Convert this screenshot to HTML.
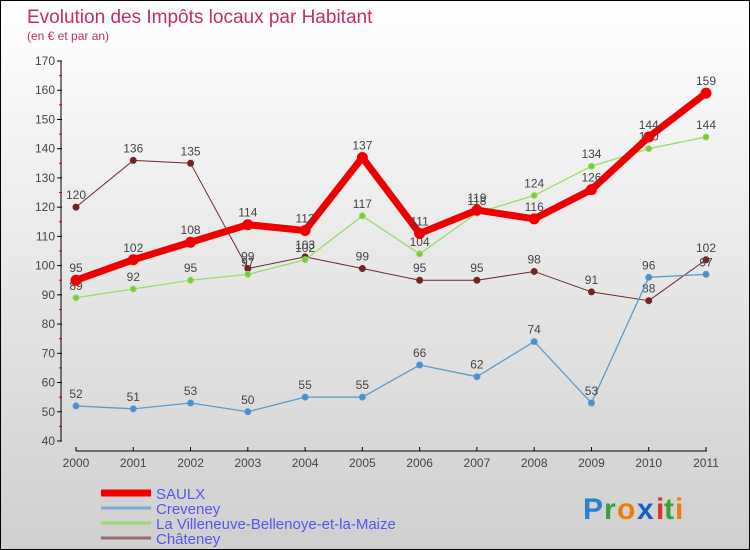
<!DOCTYPE html>
<html><head><meta charset="utf-8"><style>
body{margin:0;}
#wrap{width:748px;height:548px;border:1px solid #000;background:linear-gradient(#ffffff,#cfcfcf);position:relative;overflow:hidden;font-family:"Liberation Sans",sans-serif;}
</style></head><body>
<div id="wrap">
<svg id="svg" width="748" height="548" xmlns="http://www.w3.org/2000/svg">
<text x="26" y="22" font-size="19" fill="#c0305f">Evolution des Impôts locaux par Habitant</text>
<text x="26" y="39" font-size="12" fill="#c0305f">(en € et par an)</text>
<g id="axes"></g><g id="series"></g><g id="legend"></g>
<g font-size="30" font-family="Liberation Sans,sans-serif" font-weight="bold">
<text x="582" y="518" fill="#2a7fd4">P</text><text x="603" y="518" fill="#3aa13a">r</text><text x="616" y="518" fill="#f07a10">o</text><text x="636" y="518" fill="#1a5fc0">x</text><text x="655" y="518" fill="#e03020">i</text><text x="663" y="518" fill="#3aa13a">t</text><text x="674" y="518" fill="#f07a10">i</text>
</g>
</svg></div>
<script>
const years=["2000","2001","2002","2003","2004","2005","2006","2007","2008","2009","2010","2011"];
const saulx=[95,102,108,114,112,137,111,119,116,126,144,159];
const creveney=[52,51,53,50,55,55,66,62,74,53,96,97];
const villeneuve=[89,92,95,97,102,117,104,118,124,134,140,144];
const chateney=[120,136,135,99,103,99,95,95,98,91,88,102];
const yTicks=[40,50,60,70,80,90,100,110,120,130,140,150,160,170];
const NS="http://www.w3.org/2000/svg";
const X=i=>75+i*(705-75)/11;
const Y=v=>440-(v-40)*(380/130);
function mk(tag,attrs,parent){const e=document.createElementNS(NS,tag);for(const k in attrs)e.setAttribute(k,attrs[k]);parent.appendChild(e);return e;}
const axes=document.getElementById('axes');
let yl=mk('line',{x1:60,y1:Y(170),x2:60,y2:Y(40),stroke:'#000'},axes);


yTicks.forEach(v=>{
 mk('line',{x1:56,x2:61,y1:Y(v),y2:Y(v),stroke:'#000'},axes);
 if(v<170) mk('line',{x1:58,x2:61,y1:Y(v+5),y2:Y(v+5),stroke:'#d00'},axes);
 const t=mk('text',{x:54,y:Y(v)+4,'text-anchor':'end','font-size':12,fill:'#444'},axes);t.textContent=v;
 
 
});
let xl=mk('line',{x1:75,y1:450,x2:706,y2:450,stroke:'#000'},axes);


years.forEach((y,i)=>{
 mk('line',{x1:X(i),x2:X(i),y1:446,y2:450,stroke:'#000'},axes);
 const t=mk('text',{x:X(i),y:466,'text-anchor':'middle','font-size':12,fill:'#444'},axes);t.textContent=y;
 
 
});
const S=document.getElementById('series');
function series(data,color,w,r,fill,name){
 const g=mk('g',{},S);
 
 
 mk('polyline',{points:data.map((v,i)=>X(i)+','+Y(v)).join(' '),fill:'none',stroke:color,'stroke-width':w,'stroke-linejoin':'round'},g);
 data.forEach((v,i)=>{
  const c=mk('circle',{cx:X(i),cy:Y(v),r:r,fill:fill,stroke:color,'stroke-width':1},g);
  
  
  const t=mk('text',{x:X(i),y:Y(v)-8,'text-anchor':'middle','font-size':12,fill:'#444'},g);t.textContent=v;
  
  
 });
}
series(chateney,'#6b2a2a',1,3,'#7a2222','chateney-series');
series(villeneuve,'#99dd66',1.3,3,'#77cc33','villeneuve-series');
series(creveney,'#5a9bcc',1.3,3,'#4a8fd0','creveney-series');
series(saulx,'#ee0000',7,5,'#ee0000','saulx-series');
const L=document.getElementById('legend');
const leg=[["SAULX","#ee0000",7],["Creveney","#7aaad0",3],["La Villeneuve-Bellenoye-et-la-Maize","#99dd66",3],["Châteney","#9a6a6a",3]];
leg.forEach((d,i)=>{
 const y=492+i*15;
 const g=mk('g',{},L);
 
 
 mk('line',{x1:100,x2:150,y1:y,y2:y,stroke:d[1],'stroke-width':d[2]},g);
 const t=mk('text',{x:155,y:y+6,'font-size':15,fill:'#5555ee'},g);t.textContent=d[0];
});
</script>
</body></html>
